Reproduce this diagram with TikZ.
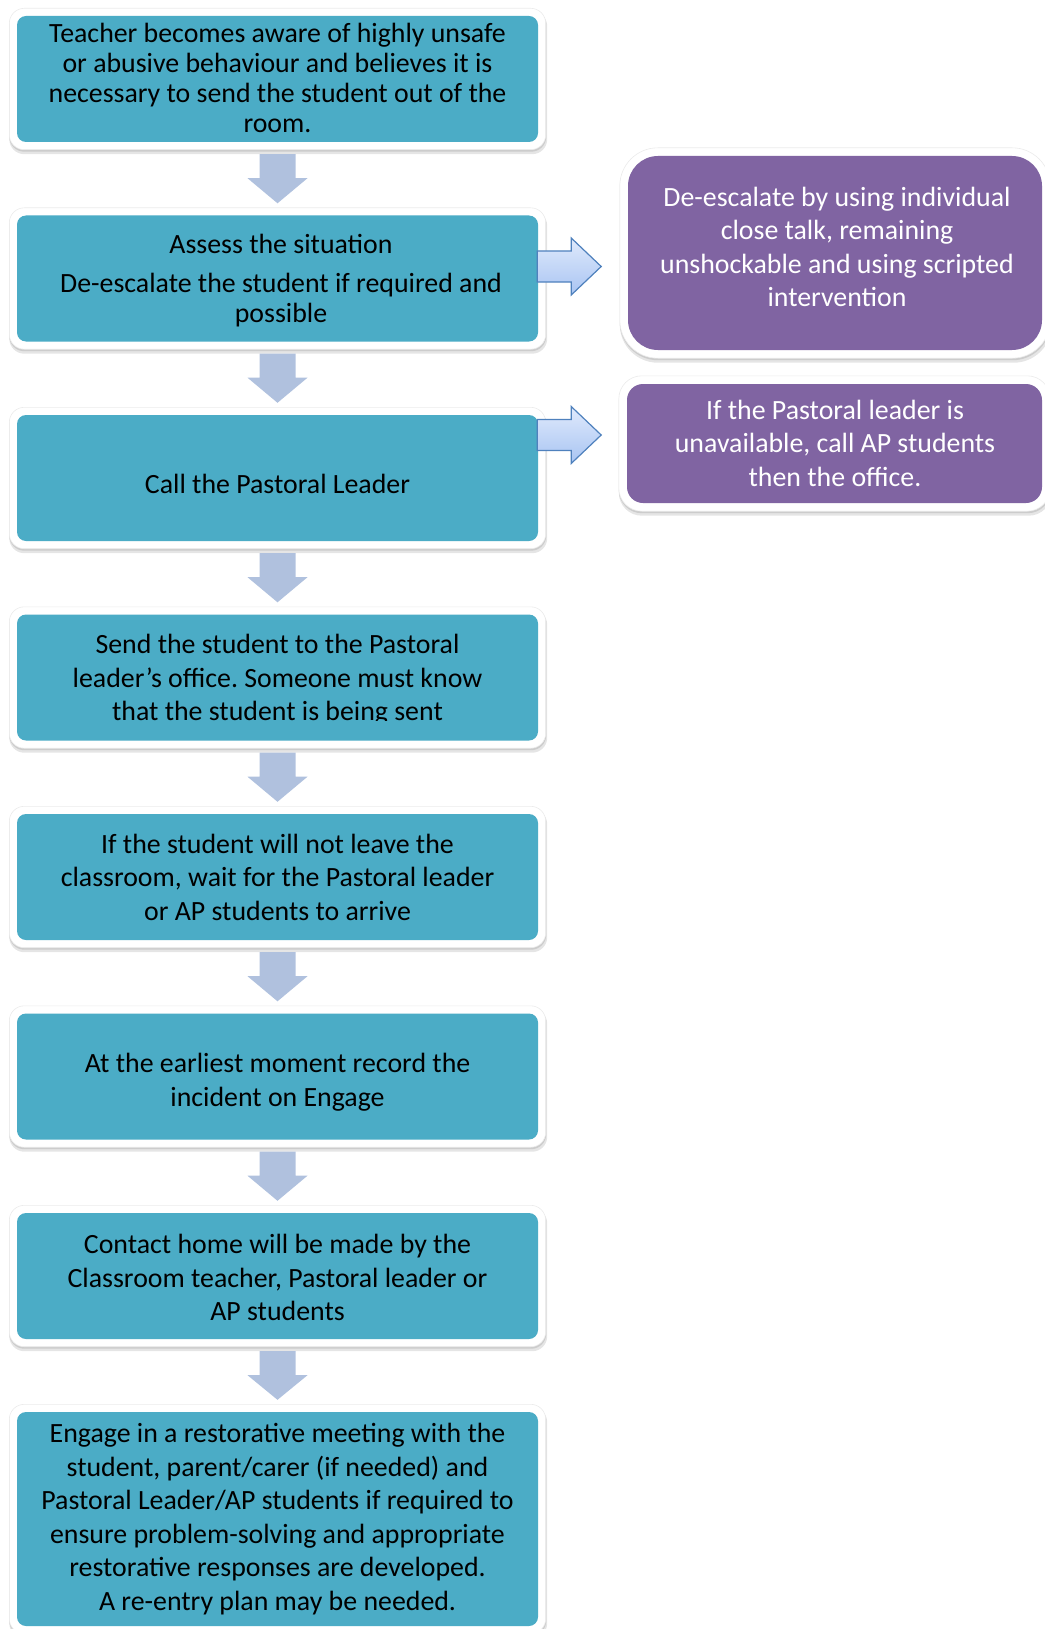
\documentclass[tikz,border=0pt]{standalone}
\usepackage{fontspec}
\setmainfont{Carlito}
\frenchspacing
\usetikzlibrary{calc,backgrounds}
\definecolor{tealbg}{RGB}{75,172,198}
\definecolor{purpbg}{RGB}{128,100,162}
\definecolor{downarr}{RGB}{176,193,222}
\definecolor{rarrline}{RGB}{79,129,189}
\definecolor{rarrtop}{RGB}{224,234,252}
\definecolor{rarrbot}{RGB}{168,196,242}
\tikzset{
  tealbox/.style={rectangle, rounded corners=9pt, fill=tealbg, minimum width=521pt, minimum height=126pt, inner sep=0pt},
  purpbox/.style={rectangle, fill=purpbg, inner sep=0pt},
  txt/.style={align=center, inner sep=0pt, font=\fontsize{27.85}{33.5}\selectfont, text=black},
  wtxt/.style={txt, text=white},
  darr/.style={fill=downarr},
  rarr/.style={draw=rarrline, line width=1.2pt, top color=rarrtop, bottom color=rarrbot, line join=miter},
}
\newcommand\frameit[3]{%
  \fill[black!10, rounded corners=#3pt] ($(#1.north west)+(-#2,-#2+3)$) rectangle ($(#1.south east)+(#2+1.5,#2+4.5)$);
  \fill[black!20, rounded corners=#3pt] ($(#1.north west)+(-#2,-#2+1.5)$) rectangle ($(#1.south east)+(#2+0.5,#2+2)$);
  \filldraw[fill=white, draw=black!8, line width=0.6pt, rounded corners=#3pt] ($(#1.north west)+(-#2,-#2)$) rectangle ($(#1.south east)+(#2,#2)$);
}
\newcommand\flowdown[2]{%
  \fill[darr] ($(#1.south)+(-18,12)$) -- ($(#1.south)+(18,12)$) -- ($(#1.south)+(18,36)$) -- ($(#1.south)+(30,36)$) -- ($(#2.north)+(0,-12)$) -- ($(#1.south)+(-30,36)$) -- ($(#1.south)+(-18,36)$) -- cycle;
}
\newcommand\flowright[1]{%
  \draw[rarr] ($(#1)+(0,-15.5)$) -- ++(34,0) -- ++(0,-13) -- ++(30,28.5) -- ++(-30,28.5) -- ++(0,-13) -- ++(-34,0) -- cycle;
}
\begin{document}
\begin{tikzpicture}[x=1pt,y=-1pt]
\useasboundingbox (0,0) rectangle (1044,1629);
% teal boxes
\node[tealbox] (b1) at (277.5,79) {};
\node[tealbox] (b2) at (277.5,278.5) {};
\node[tealbox] (b3) at (277.5,478) {};
\node[tealbox] (b4) at (277.5,677.5) {};
\node[tealbox] (b5) at (277.5,877) {};
\node[tealbox] (b6) at (277.5,1076.5) {};
\node[tealbox] (b7) at (277.5,1276) {};
\node[tealbox, minimum height=214pt] (b8) at (277.5,1519) {};
% purple boxes
\node[purpbox, rounded corners=30pt, minimum width=414pt, minimum height=194pt] (p1) at (835,253) {};
\node[purpbox, rounded corners=16pt, minimum width=415pt, minimum height=119pt] (p2) at (834.5,443.5) {};
% frames
\begin{scope}[on background layer]
  \foreach \n in {b1,b2,b3,b4,b5,b6,b7,b8} {\frameit{\n}{7.5}{15}}
  \frameit{p1}{8}{38}
  \frameit{p2}{8}{23}
\end{scope}
% texts
\node[txt, font=\fontsize{27.85}{30}\selectfont] (t1) at (277.5,78.4) {Teacher becomes aware of highly unsafe\\or abusive behaviour and believes it is\\necessary to send the student out of the\\room.};
\node[txt, font=\fontsize{27.85}{30}\selectfont] (t2) at (281,280.4) {Assess the situation\\[8.4pt]De-escalate the student if required and\\possible};
\node[txt] (t3) at (277.5,484) {Call the Pastoral Leader};
\begin{scope}
  \clip (0,600) rectangle (1044,720.5);
  \node[txt] (t4) at (277.5,679.8) {Send the student to the Pastoral\\leader’s office. Someone must know\\that the student is being sent};
\end{scope}
\node[txt] (t5) at (277.5,877.3) {If the student will not leave the\\classroom, wait for the Pastoral leader\\or AP students to arrive};
\node[txt] (t6) at (277.5,1082.4) {At the earliest moment record the\\incident on Engage};
\node[txt] (t7) at (277.5,1277.7) {Contact home will be made by the\\Classroom teacher, Pastoral leader or\\AP students};
\node[txt] (t8) at (277.5,1519.2) {Engage in a restorative meeting with the\\student, parent/carer (if needed) and\\Pastoral Leader/AP students if required to\\ensure problem-solving and appropriate\\restorative responses are developed.\\A re-entry plan may be needed.};
\node[wtxt] (q1) at (837,246.7) {De-escalate by using individual\\close talk, remaining\\unshockable and using scripted\\intervention};
\node[wtxt] (q2) at (835,443) {If the Pastoral leader is\\unavailable, call AP students\\then the office.};
% down arrows
\flowdown{b1}{b2}
\flowdown{b2}{b3}
\flowdown{b3}{b4}
\flowdown{b4}{b5}
\flowdown{b5}{b6}
\flowdown{b6}{b7}
\flowdown{b7}{b8}
% right arrows
\coordinate (ra1) at ($(b2.east)+(-1,-12)$);
\coordinate (ra2) at ($(b3.east)+(-1,-43)$);
\flowright{ra1}
\flowright{ra2}
\end{tikzpicture}
\end{document}
